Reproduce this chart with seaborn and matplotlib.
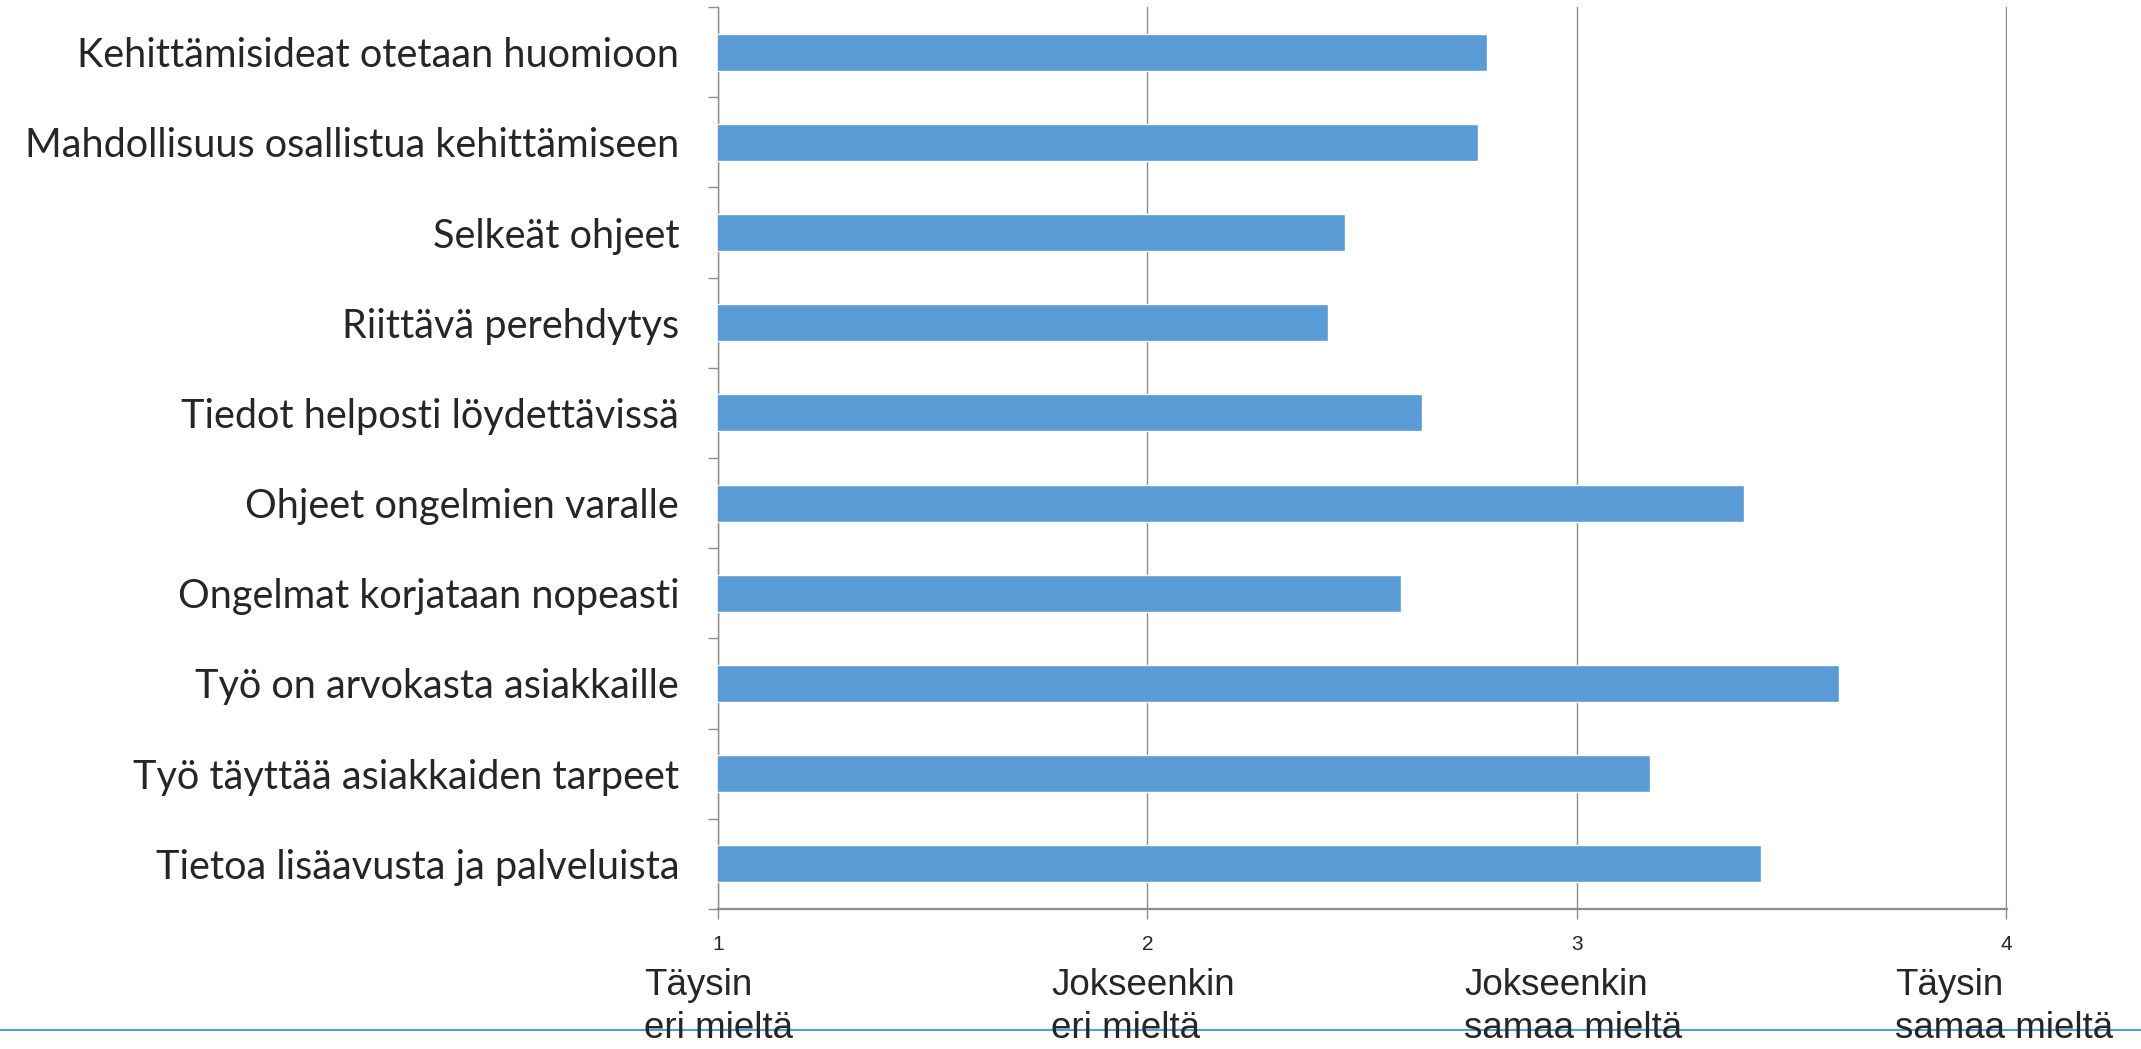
import numpy as np
import pandas as pd
import matplotlib
matplotlib.use("Agg")
import matplotlib.pyplot as plt
from matplotlib.lines import Line2D
from matplotlib.ticker import FixedLocator
import seaborn as sns

# Chart data
categories = [
    "Kehittämisideat otetaan huomioon",
    "Mahdollisuus osallistua kehittämiseen",
    "Selkeät ohjeet",
    "Riittävä perehdytys",
    "Tiedot helposti löydettävissä",
    "Ohjeet ongelmien varalle",
    "Ongelmat korjataan nopeasti",
    "Työ on arvokasta asiakkaille",
    "Työ täyttää asiakkaiden tarpeet",
    "Tietoa lisäavusta ja palveluista",
]
values = [2.79, 2.77, 2.46, 2.42, 2.64, 3.39, 2.59, 3.61, 3.17, 3.43]

x_ticks = [1, 2, 3, 4]
scale_labels = ["Täysin\neri mieltä", "Jokseenkin\neri mieltä",
                "Jokseenkin\nsamaa mieltä", "Täysin\nsamaa mieltä"]

df = pd.DataFrame({"kysymys": categories, "arvo": values})

sns.set_style("white")
plt.rcParams["font.family"] = ["Lato", "DejaVu Sans"]

fig = plt.figure(figsize=(21.41, 10.49), dpi=100)
ax = fig.add_axes([0.3354, 0.1335, 0.6020, 0.8598])

sns.barplot(data=df, x="arvo", y="kysymys", orient="h", color="#5B9BD5",
            width=0.41, saturation=1, ax=ax, zorder=3)

ax.set_xlim(1, 4.002)
ax.set_ylim(len(categories) - 0.5, -0.5)
ax.set_xlabel("")
ax.set_ylabel("")

# vertical gridlines
ax.set_xticks(x_ticks)
ax.grid(axis="x", color="#8C8C8C", linewidth=1.0, zorder=0)
ax.grid(axis="y", visible=False)

for side in ["top", "right"]:
    ax.spines[side].set_visible(False)
ax.spines["left"].set_color("#8C8C8C")
ax.spines["bottom"].set_color("#8C8C8C")
ax.spines["left"].set_linewidth(1.0)
ax.spines["bottom"].set_linewidth(1.6)

# category labels without tick marks, ticks at category boundaries
ax.tick_params(axis="y", which="major", length=0, pad=28, labelsize=28.5)
ax.yaxis.set_minor_locator(FixedLocator(np.arange(-0.5, len(categories), 1)))
ax.tick_params(axis="y", which="minor", length=7, width=1.0, color="#8C8C8C", left=True)

ax.tick_params(axis="x", which="major", length=7, width=1.0, color="#8C8C8C",
               bottom=True, pad=12)
for lbl in ax.get_xticklabels():
    lbl.set_fontfamily(["Liberation Sans Narrow", "Liberation Sans"])
    lbl.set_fontsize(15)

# scale descriptions under the axis
label_x = [0.3008, 0.4910, 0.6838, 0.8850]
for xp, txt in zip(label_x, scale_labels):
    fig.text(xp, 1 - 968 / 1049, txt, ha="left", va="top", fontsize=26.5,
             linespacing=1.3, family=["Liberation Sans Narrow", "Liberation Sans"])

# thin blue line across the bottom of the slide
fig.add_artist(Line2D([0, 1], [1 - 1030 / 1049, 1 - 1030 / 1049],
                      transform=fig.transFigure, color="#5B9BD5", linewidth=1.5))

fig.savefig("out.png", dpi=100)
